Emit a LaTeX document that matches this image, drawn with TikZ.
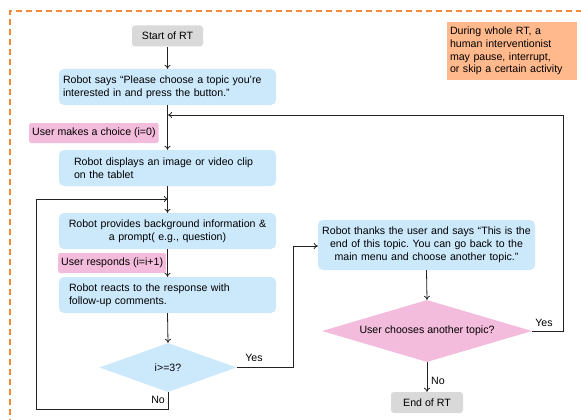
\documentclass[tikz,border=0pt]{standalone}
\usepackage{fontspec}
\setmainfont{Liberation Sans}
\usetikzlibrary{shapes.geometric,arrows.meta}
\definecolor{bluef}{HTML}{CCE9FC}
\definecolor{pinkf}{HTML}{F4BCDC}
\definecolor{grayf}{HTML}{D9D9D9}
\definecolor{orangef}{HTML}{FFB98C}
\definecolor{orangel}{HTML}{F5893A}
\definecolor{linec}{HTML}{222222}
\begin{document}
\frenchspacing
\begin{tikzpicture}[x=1pt,y=-1pt,
  font=\fontsize{10.6}{12.8}\selectfont,
  bbox/.style={rectangle,rounded corners=5pt,fill=bluef,minimum width=217pt,minimum height=36pt,inner ysep=2pt},
  gbox/.style={rectangle,rounded corners=3pt,fill=grayf,minimum height=21pt,inner sep=2pt},
  pbox/.style={rectangle,rounded corners=2pt,fill=pinkf,minimum height=20pt,inner xsep=3pt,inner ysep=2pt,anchor=west},
  dia/.style={diamond,aspect=2.8,inner sep=0pt},
  conn/.style={draw=linec,line width=0.8pt},
  arr/.style={conn,-{To[length=4pt,width=6pt]}},
  lab/.style={inner sep=1pt}
]
\useasboundingbox (0,0) rectangle (581,420);
% dashed frame
\draw[orangel,line width=1.2pt,dash pattern=on 6pt off 4pt] (10,425) -- (10,11) -- (586,11);

\node[gbox,minimum width=71pt] (start) at (167.5,36) {Start of RT};
\node[bbox,text width=209pt,inner xsep=4pt,align=left] (says) at (167.5,87) {Robot says “Please choose a topic you're\\interested in and press the button.”};
\node[pbox] (choice) at (29,133) {User makes a choice (i=0)};
\node[bbox,text width=195pt,inner xsep=11pt,align=left] (disp) at (167.5,168) {\hspace*{4pt}Robot displays an image or video clip\\\hspace*{4pt}on the tablet};
\node[bbox,text width=213pt,inner xsep=2pt,align=center] (prov) at (167.5,231) {Robot provides background information \&\\a prompt( e.g., question)};
\node[pbox] (resp) at (58,263) {User responds (i=i+1)};
\node[bbox,text width=203pt,inner xsep=7pt,align=left] (react) at (167.5,295) {\hspace*{3pt}Robot reacts to the response with\\\hspace*{3pt}follow-up comments.};
\node[dia,fill=bluef,minimum width=137pt,minimum height=49pt] (ci) at (168,367.5) {i>=3?};

\node[bbox,text width=215pt,inner xsep=1pt,minimum height=50pt,align=center] (thanks) at (426.5,245) {Robot thanks the user and says “This is the\\end of this topic. You can go back to the\\main menu and choose another topic.”};
\node[dia,fill=pinkf,minimum width=210pt,minimum height=62pt] (cu) at (427,331) {User chooses another topic?};
\node[gbox,minimum width=72pt] (end) at (427,402.5) {End of RT};

\node[rectangle,fill=orangef,minimum width=130pt,minimum height=58pt,text width=124pt,inner xsep=3pt,align=left] (note) at (512,51) {During whole RT, a\\human interventionist\\may pause, interrupt,\\or skip a certain activity};

% helper coordinates
\coordinate (j1) at (168,115);
\coordinate (j2) at (168,199);

% connectors
\draw[arr] (start) -- (says);
\draw[arr] (says.south) -- (disp.north);
\draw[arr] (disp.south) -- (prov.north);
\draw[arr] (prov.south) -- (react.north);
\draw[arr] (react.south) -- (ci.north);

% No loop
\draw[arr] (ci.south) -- (168,409) -- (36,409) -- (36,199) -- (j2);
\node[lab,anchor=east] at (166,400) {No};

% Yes to thanks
\draw[arr] (ci.east) -- (293,367.5) -- (293,246) -- (thanks.west |- 0,246);
\node[lab] at (254,358) {Yes};

\draw[arr] (thanks.south) -- (cu.north);
\draw[arr] (cu.south) -- (end.north);
\node[lab,anchor=west] at (430,381) {No};

% Yes back to top
\draw[arr] (cu.east) -- (563,331) -- (563,115) -- (j1);
\node[lab] at (544,323) {Yes};
\end{tikzpicture}
\end{document}
